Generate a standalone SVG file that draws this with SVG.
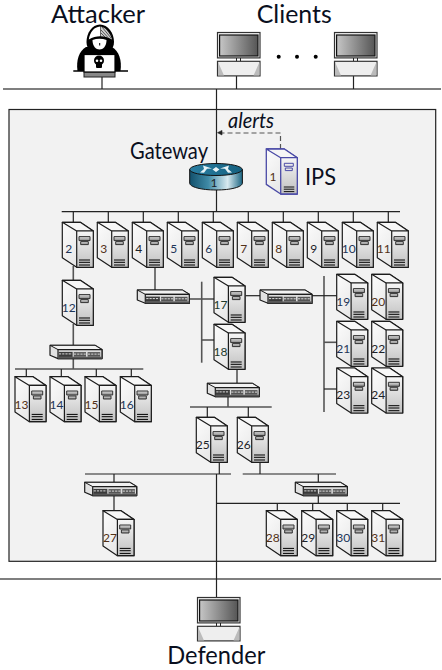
<svg xmlns="http://www.w3.org/2000/svg" xmlns:xlink="http://www.w3.org/1999/xlink" width="442" height="670" viewBox="0 0 442 670">
<style>
text{font-family:"Lato","Noto Sans","Liberation Sans",sans-serif;fill:#0a0f1e}
.t{font-size:25px}
.n{font-size:12px;text-anchor:middle;font-family:"Lato","Liberation Sans",sans-serif}
.b{fill:#1d3558}.o{fill:#523018}.d{fill:#1c2228}.g{fill:#1c3a2c}
.c line,.c path{stroke:#222;stroke-width:1.2;fill:none}
.c .h{stroke:#555;stroke-width:1.6}
</style>
<defs>
<linearGradient id="side" x1="0" y1="0" x2="1" y2="1"><stop offset="0" stop-color="#fcfcfc"/><stop offset="1" stop-color="#dedede"/></linearGradient>
<linearGradient id="front" x1="0" y1="0" x2="0" y2="1"><stop offset="0" stop-color="#f6f6f6"/><stop offset="1" stop-color="#c0c0c0"/></linearGradient>
<linearGradient id="bay" x1="0" y1="0" x2="0" y2="1"><stop offset="0" stop-color="#ddd"/><stop offset="1" stop-color="#888"/></linearGradient>
<linearGradient id="screen" x1="0" y1="0" x2="1" y2="0"><stop offset="0" stop-color="#c6c6c6"/><stop offset="1" stop-color="#555"/></linearGradient>
<linearGradient id="rside" x1="0" y1="0" x2="1" y2="0"><stop offset="0" stop-color="#12506c"/><stop offset=".35" stop-color="#3f8aa6"/><stop offset=".72" stop-color="#d8eaf0"/><stop offset="1" stop-color="#1b6582"/></linearGradient>
<linearGradient id="rtop" x1="0" y1="0" x2="1" y2="0"><stop offset="0" stop-color="#2a7fa3"/><stop offset="1" stop-color="#15607f"/></linearGradient>
<g id="server" stroke-linejoin="round">
<path d="M0 0H18L31 8.7V45H14.4L0 35.4Z" fill="url(#side)" stroke="#1c1c1c" stroke-width="1.2"/>
<path d="M0 0L14.4 8.7H31L18 0Z" fill="#f7f7f7" stroke="#1c1c1c" stroke-width="1.2"/>
<rect x="14.4" y="8.7" width="16.6" height="36.3" fill="url(#front)" stroke="#1c1c1c" stroke-width="1.2"/>
<rect x="16.7" y="14.3" width="11" height="4" fill="url(#bay)" stroke="#333"/>
<rect x="18.4" y="19.3" width="7.6" height="3" fill="url(#bay)" stroke="#333"/>
<path d="M16.7 37.7H27.7M16.7 40H27.7M16.7 42.7H27.7" stroke="#000" fill="none"/>
</g>
<g id="ips" stroke-linejoin="round">
<path d="M0 0H18L31 8.7V45H14.4L0 35.4Z" fill="url(#side)" stroke="#4a4aa6" stroke-width="1.3"/>
<path d="M0 0L14.4 8.7H31L18 0Z" fill="#f5f5f5" stroke="#4a4aa6" stroke-width="1.3"/>
<rect x="14.4" y="8.7" width="16.6" height="36.3" fill="url(#front)" stroke="#4a4aa6" stroke-width="1.3"/>
<rect x="18" y="14.3" width="9" height="3" fill="none" stroke="#4a4aa6"/>
<rect x="19" y="19" width="7" height="2.6" fill="none" stroke="#4a4aa6"/>
<path d="M17.5 38H28M17.5 40.2H28M17.5 42.6H28" stroke="#111" fill="none"/>
</g>
<g id="switch" stroke-linejoin="round">
<path d="M0 0H45L52 4.3V13.3H8L0 10Z" fill="#e2e2e2" stroke="#1c1c1c" stroke-width="1.2"/>
<path d="M0 0L8 4.3H52L45 0Z" fill="#f2f2f2" stroke="#1c1c1c" stroke-width="1"/>
<rect x="8" y="4.3" width="44" height="9" fill="#dcdcdc" stroke="#1c1c1c" stroke-width="1.2"/>
<rect x="8" y="11.4" width="44" height="1.9" fill="#555"/>
<rect x="8.6" y="6.6" width="14" height="5" fill="#3a3a3a"/>
<rect x="23.8" y="6.8" width="12.2" height="4.6" fill="#555"/>
<rect x="37.6" y="6.8" width="12.6" height="4.6" fill="#555"/>
<path d="M9 8.6H22M24 8.8H36M38 8.8H50" stroke="#ddd" stroke-dasharray="2.2 1" fill="none"/>
</g>
<g id="pc">
<rect x="0.5" y="0.5" width="42.5" height="25.4" fill="#f4f4f4" stroke="#333" stroke-width="1.2"/>
<rect x="2.6" y="3" width="38.4" height="21" fill="url(#screen)" stroke="#111" stroke-width="1.2"/>
<path d="M19.5 26V29.3M23.5 26V29.3" stroke="#222" fill="none"/>
<rect x="0.5" y="29.3" width="42.5" height="14.6" fill="#eee" stroke="#333" stroke-width="1.2"/>
<path d="M1 30V43.5H7L1 30ZM42.5 30V43.5H36.5Z" fill="#bbb"/>
</g>
</defs>
<rect id="panel" x="9" y="109.5" width="426.7" height="451.8" fill="#f2f2f2" stroke="#222" stroke-width="1.2"/>
<g id="connectors" class="c">
<line class="h" x1="3" y1="89" x2="441" y2="89"/>
<line class="h" x1="0" y1="579" x2="441" y2="579"/>
<line x1="102" y1="76" x2="102" y2="89"/>
<line x1="236.5" y1="76" x2="236.5" y2="89"/>
<line x1="353.5" y1="76" x2="353.5" y2="89"/>
<line x1="216.5" y1="89" x2="216.5" y2="212"/>
<path d="M280.5 149V133H220" stroke-dasharray="5 3" style="stroke:#555"/>
<path d="M217.5 132.7L222 130.4V135Z" style="fill:#222;stroke:#222;stroke-width:.6"/>
<line x1="61.7" y1="211.7" x2="400" y2="211.7"/>
<path d="M73.3 211.7V222M108.3 211.7V222M143.3 211.7V222M178.3 211.7V222M213.3 211.7V222M248.3 211.7V222M283.3 211.7V222M318.3 211.7V222M353.3 211.7V222M388.3 211.7V222"/>
<line class="h" x1="73.3" y1="266" x2="73.3" y2="281"/>
<line class="h" x1="73.3" y1="324" x2="73.3" y2="346"/>
<line class="h" x1="73.3" y1="358" x2="73.3" y2="369"/>
<line class="h" x1="15" y1="369" x2="143.3" y2="369"/>
<path d="M26.3 369V377M61.3 369V377M96.3 369V377M131.3 369V377"/>
<line class="h" x1="155" y1="267" x2="155" y2="290"/>
<line class="h" x1="189" y1="299" x2="214" y2="299"/>
<line class="h" x1="201.7" y1="281.7" x2="201.7" y2="362.7"/>
<line class="h" x1="201.7" y1="340" x2="214" y2="340"/>
<line x1="245.7" y1="295.7" x2="260" y2="295.7"/>
<line x1="311.7" y1="295.7" x2="337" y2="295.7"/>
<line x1="324" y1="276" x2="324" y2="412"/>
<line class="h" x1="324" y1="342.3" x2="337" y2="342.3"/>
<line x1="324" y1="389" x2="337" y2="389"/>
<line class="h" x1="237" y1="369" x2="237" y2="384"/>
<line class="h" x1="228" y1="397" x2="228" y2="407"/>
<line class="h" x1="190" y1="407" x2="271.7" y2="407"/>
<path d="M207.3 407V417.5M248.3 407V417.5M219.3 462V474M260 462V474"/>
<line x1="85" y1="474" x2="231" y2="474"/>
<line x1="242.7" y1="474" x2="336" y2="474"/>
<line x1="216.5" y1="474" x2="216.5" y2="598"/>
<path d="M114 474V483M318.3 474V483M318.3 496V503.3"/>
<line class="h" x1="114" y1="496" x2="114" y2="511"/>
<line x1="216.5" y1="503.3" x2="400" y2="503.3"/>
<path d="M277.3 503.3V511M312.7 503.3V511M347.3 503.3V511M382.7 503.3V511"/>
</g>
<text class="t" x="51" y="22.7" textLength="94" lengthAdjust="spacingAndGlyphs">Attacker</text>
<g id="attacker">
<path d="M86 47C79 51 76 60 77.5 71H120.5C122 60 119 51 112 47Z" fill="#000"/>
<path d="M100 24.5C92 24.5 86.5 33 86.5 42C86.5 50 92 53 100 53C108 53 114 50 114 42C114 33 108 24.5 100 24.5Z" fill="#000"/>
<path d="M100 26.500C94 27 90 32 88.800 39.500C92.500 37 96.500 36.300 100 36.300Z" fill="#fff"/>
<path d="M100.500 26.500C105 27 110 32 112 39.500C108 37.300 104 36.300 100.500 36.300Z" fill="#ccc"/>
<path d="M102 27L111 38M101 30L108 37.500M101 33L105 37M105 27.500L112 36" stroke="#222" stroke-width=".7" fill="none"/>
<path d="M92.500 40C97 38.300 102 38.300 106.500 40C106.500 46.500 103 49.500 99.500 49.500C96 49.500 92.500 46.500 92.500 40Z" fill="#fff"/>
<rect x="99.200" y="43" width="1" height="2.500" fill="#000"/>
<line x1="73.300" y1="71" x2="128" y2="71" stroke="#000" stroke-width="1.300"/>
<rect x="84" y="54.500" width="31" height="17.500" fill="#fff" stroke="#000" stroke-width="1.200"/>
<rect x="84" y="72.500" width="31" height="4.500" fill="#888" stroke="#222"/>
<circle cx="99" cy="60.500" r="5" fill="#000"/>
<rect x="96" y="63" width="6" height="5" rx="1" fill="#000"/>
<circle cx="97" cy="60.800" r="1.300" fill="#fff"/>
<circle cx="101" cy="60.800" r="1.300" fill="#fff"/>
</g>
<text class="t" x="256.700" y="22.700" textLength="75" lengthAdjust="spacingAndGlyphs">Clients</text>
<g id="client1"><use xlink:href="#pc" href="#pc" x="217" y="32"/></g>
<g id="dots" fill="#000"><circle cx="278.700" cy="56.700" r="2"/><circle cx="297" cy="56.700" r="2"/><circle cx="315.700" cy="56.700" r="2"/></g>
<g id="client2"><use xlink:href="#pc" href="#pc" x="334" y="32"/></g>
<text x="228" y="128" font-size="21" font-style="italic" textLength="46" lengthAdjust="spacingAndGlyphs">alerts</text>
<text x="130" y="159" font-size="23" textLength="78" lengthAdjust="spacingAndGlyphs">Gateway</text>
<g id="router">
<path d="M189.700 169.500V183C189.700 187 201 190 216 190C231 190 242.400 187 242.400 183V169.500Z" fill="url(#rside)" stroke="#111"/>
<ellipse cx="216" cy="169.500" rx="26.300" ry="6" fill="url(#rtop)" stroke="#111"/>
<path d="M203 165.500L212 168.500L207 168.800L204 172.800L200 172.500L204 169ZM229 165.500L220 168.500L225 168.800L228 172.800L232 172.500L228 169ZM212.500 169.500L216 172L219.500 169.500L216 167Z" fill="#e8f3f7"/>
<text class="n d" x="214" y="187">1</text>
</g>
<g id="ips-node"><use xlink:href="#ips" href="#ips" x="266.300" y="149"/><text class="n o" x="273" y="181">1</text></g>
<text x="305" y="185" font-size="24" textLength="31" lengthAdjust="spacingAndGlyphs">IPS</text>
<g id="s2"><use xlink:href="#server" href="#server" x="62.300" y="222.300"/><text class="n b" x="68.800" y="253.300">2</text></g>
<g id="s3"><use xlink:href="#server" href="#server" x="97.300" y="222.300"/><text class="n o" x="103.800" y="253.300">3</text></g>
<g id="s4"><use xlink:href="#server" href="#server" x="132.300" y="222.300"/><text class="n d" x="138.800" y="253.300">4</text></g>
<g id="s5"><use xlink:href="#server" href="#server" x="167.300" y="222.300"/><text class="n b" x="173.800" y="253.300">5</text></g>
<g id="s6"><use xlink:href="#server" href="#server" x="202.300" y="222.300"/><text class="n b" x="208.800" y="253.300">6</text></g>
<g id="s7"><use xlink:href="#server" href="#server" x="237.300" y="222.300"/><text class="n o" x="243.800" y="253.300">7</text></g>
<g id="s8"><use xlink:href="#server" href="#server" x="272.300" y="222.300"/><text class="n o" x="278.800" y="253.300">8</text></g>
<g id="s9"><use xlink:href="#server" href="#server" x="307.300" y="222.300"/><text class="n d" x="313.800" y="253.300">9</text></g>
<g id="s10"><use xlink:href="#server" href="#server" x="342.300" y="222.300"/><text class="n b" x="348.800" y="253.300">10</text></g>
<g id="s11"><use xlink:href="#server" href="#server" x="377.300" y="222.300"/><text class="n o" x="383.800" y="253.300">11</text></g>
<g id="s12"><use xlink:href="#server" href="#server" x="62.300" y="280.300"/><text class="n b" x="68.800" y="312">12</text></g>
<g id="s13"><use xlink:href="#server" href="#server" x="15" y="376.700"/><text class="n o" x="21.500" y="408.500">13</text></g>
<g id="s14"><use xlink:href="#server" href="#server" x="50" y="376.700"/><text class="n b" x="56.500" y="408.500">14</text></g>
<g id="s15"><use xlink:href="#server" href="#server" x="85" y="376.700"/><text class="n o" x="91.500" y="408.500">15</text></g>
<g id="s16"><use xlink:href="#server" href="#server" x="120.300" y="376.700"/><text class="n b" x="126.800" y="408.500">16</text></g>
<g id="s17"><use xlink:href="#server" href="#server" x="214" y="277.300"/><text class="n g" x="220.500" y="308.500">17</text></g>
<g id="s18"><use xlink:href="#server" href="#server" x="214" y="324.300"/><text class="n g" x="220.500" y="355.500">18</text></g>
<g id="s19"><use xlink:href="#server" href="#server" x="336.700" y="274.300"/><text class="n b" x="343.200" y="305.500">19</text></g>
<g id="s20"><use xlink:href="#server" href="#server" x="371.700" y="274.300"/><text class="n o" x="378.200" y="305.500">20</text></g>
<g id="s21"><use xlink:href="#server" href="#server" x="336.700" y="321.300"/><text class="n b" x="343.200" y="352.500">21</text></g>
<g id="s22"><use xlink:href="#server" href="#server" x="371.700" y="321.300"/><text class="n d" x="378.200" y="352.500">22</text></g>
<g id="s23"><use xlink:href="#server" href="#server" x="336.700" y="368"/><text class="n d" x="343.200" y="399">23</text></g>
<g id="s24"><use xlink:href="#server" href="#server" x="371.700" y="368"/><text class="n d" x="378.200" y="399">24</text></g>
<g id="s25"><use xlink:href="#server" href="#server" x="196.300" y="417.300"/><text class="n d" x="202.800" y="449">25</text></g>
<g id="s26"><use xlink:href="#server" href="#server" x="237.300" y="417.300"/><text class="n d" x="243.800" y="449">26</text></g>
<g id="s27"><use xlink:href="#server" href="#server" x="103" y="510.700"/><text class="n o" x="110" y="542">27</text></g>
<g id="s28"><use xlink:href="#server" href="#server" x="266.300" y="510.700"/><text class="n o" x="272.800" y="542">28</text></g>
<g id="s29"><use xlink:href="#server" href="#server" x="301.700" y="510.700"/><text class="n d" x="308.200" y="542">29</text></g>
<g id="s30"><use xlink:href="#server" href="#server" x="336.700" y="510.700"/><text class="n b" x="343.200" y="542">30</text></g>
<g id="s31"><use xlink:href="#server" href="#server" x="371.700" y="510.700"/><text class="n o" x="378.200" y="542">31</text></g>
<g id="swA"><use xlink:href="#switch" href="#switch" x="137.300" y="290"/></g>
<g id="swB"><use xlink:href="#switch" href="#switch" x="50" y="345.300"/></g>
<g id="swC"><use xlink:href="#switch" href="#switch" x="260" y="290"/></g>
<g id="swD"><use xlink:href="#switch" href="#switch" x="207.300" y="383.300"/></g>
<g id="swE"><use xlink:href="#switch" href="#switch" x="84.700" y="482.300"/></g>
<g id="swF"><use xlink:href="#switch" href="#switch" x="295.300" y="482.300"/></g>
<g id="defender"><use xlink:href="#pc" href="#pc" x="197" y="597"/></g>
<text class="t" x="167.300" y="664" textLength="98" lengthAdjust="spacingAndGlyphs">Defender</text>
</svg>
